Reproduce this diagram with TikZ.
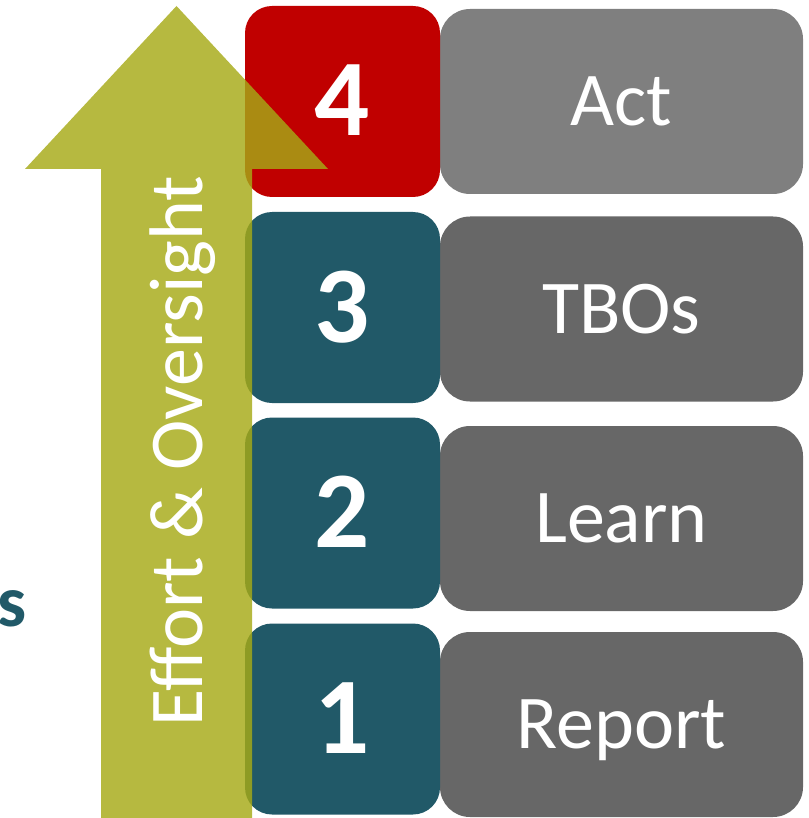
\documentclass[tikz,border=0pt]{standalone}
\usepackage{fontspec}
\setmainfont{Carlito}
\definecolor{redbox}{RGB}{192,0,0}
\definecolor{tealbox}{RGB}{33,89,104}
\definecolor{greyact}{RGB}{127,127,127}
\definecolor{greybox}{RGB}{103,103,103}
\definecolor{arrowcol}{RGB}{166,170,22}
\tikzset{
  numbox/.style={rectangle, rounded corners=27pt, minimum width=195pt, minimum height=191pt,
    inner sep=0pt, text=white, font=\bfseries\fontsize{109}{109}\selectfont,
    text height=69pt, text depth=0pt},
  wordbox/.style={rectangle, rounded corners=30pt, minimum width=363pt, minimum height=185pt,
    inner sep=0pt, text=white, fill=greybox, font=\fontsize{76}{76}\selectfont,
    text height=48pt, text depth=0pt},
  bigarrow/.style={fill=arrowcol, fill opacity=0.82, draw=none},
  arrowtext/.style={text=white, font=\fontsize{76}{76}\selectfont, inner sep=0pt},
  sidetext/.style={text=tealbox, font=\bfseries\fontsize{73}{73}\selectfont, inner sep=0pt}
}
\begin{document}
\begin{tikzpicture}[x=1pt,y=-1pt]
\useasboundingbox (0,0) rectangle (808,818);
% right word boxes
\node[wordbox, fill=greyact] (act) at (621.5,101.5) {Act};
\node[wordbox] (tbos) at (621.5,309) {TBOs};
\node[wordbox] (learn) at (621.5,518.5) {Learn};
\node[wordbox] (report) at (621.5,724.5) {Report};
% left number boxes
\node[numbox, fill=redbox] (n4) at (342.5,101.5) {4};
\node[numbox, fill=tealbox] (n3) at (342.5,307.5) {3};
\node[numbox, fill=tealbox] (n2) at (342.5,513) {2};
\node[numbox, fill=tealbox] (n1) at (342.5,719) {1};
% big arrow
\path[bigarrow] (176.5,6) -- (328,169) -- (252,169) -- (252,818) -- (101,818) -- (101,169) -- (25,169) -- cycle;
\node[arrowtext, rotate=90, anchor=base] (effort) at (202,451) {Effort \& Oversight};
% cut-off side text
\node[sidetext, anchor=base east] (side) at (27,626) {s};
\end{tikzpicture}
\end{document}
